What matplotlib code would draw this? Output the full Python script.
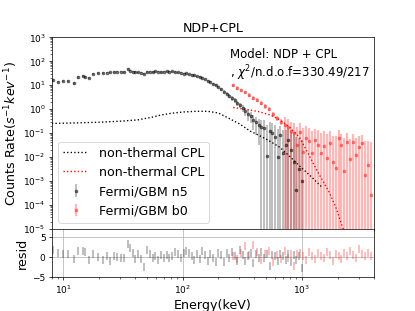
import matplotlib.pyplot as plt

# ---- Fermi/GBM n5 (NaI) count spectrum ----
n5_e = [8.2, 9.0, 9.9, 10.9, 12.2, 13.3, 14.6, 15.2, 16.5, 17.7, 19.5, 21.4,
        23.0, 24.8, 26.5, 28.4, 30.4, 32.5, 34.6, 36.3, 38.1, 40.2, 42.5, 44.8, 47.4,
        50.1, 53.0, 56.0, 59.1, 62.4, 65.9, 69.6, 73.5, 77.6, 81.9, 86.5, 91.3, 96.4,
        102, 107, 113, 119, 125, 132, 139, 146, 154, 162, 171, 180, 190, 200,
        211, 222, 234, 246, 259, 273, 288, 303, 319, 336, 354, 373, 393, 414,
        436, 459, 483, 509, 536, 565, 595, 627, 660, 695, 732, 771, 812, 855, 900, 950, 1000]
n5_rate = [16, 13.7, 15, 14.7, 11.8, 21, 23.7, 22, 19.5, 28.7, 30.7, 32,
           33, 34, 35, 36, 36, 35, 46, 40, 36, 35, 34, 33, 29,
           35, 36, 35, 37, 36, 35, 36, 37, 36, 37, 35, 34, 33,
           30, 31, 28, 27, 25, 23, 21, 19, 17, 15, 13.3, 11.5, 9.8, 8.2,
           6.8, 5.3, 4.4, 3.6, 2.8, 2.3, 1.8, 1.45, 1.1, 0.8, 0.6, 0.5, 0.35, 0.28,
           0.21, 0.17, 0.16, 0.011, 0.12, 0.1, 0.065, 0.01, 0.082, 0.015, 0.03, 0.05,
           0.02, 0.006, 0.00042, 0.003, 0.001]
n5_err = [1.9, 1.6, 1.8, 1.8, 1.5, 2.5, 2.5, 2.4, 2.2, 2.8, 2.8, 2.8,
          2.6, 2.6, 2.6, 2.5, 2.5, 2.4, 3.0, 2.6, 2.3, 2.2, 2.1, 2.0, 1.9,
          2.0, 2.0, 2.0, 2.0, 2.0, 2.0, 2.0, 2.0, 2.0, 2.0, 2.0, 2.0, 2.0,
          2.0, 2.0, 2.0, 2.0, 1.9, 1.8, 1.7, 1.6, 1.5, 1.4, 1.3, 1.2, 1.1, 1.0,
          0.9, 0.8, 0.7, 0.65, 0.55, 0.5, 0.45, 0.4, 0.35, 0.3, 0.28, 0.25, 0.22, 0.2,
          0.18, 0.17, 0.18, 0.2, 0.16, 0.15, 0.14, 0.13, 0.12, 0.12, 0.1, 0.1,
          0.09, 0.08, 0.07, 0.06, 0.05]
n5_resid = [1.8, 1.0, 0.8, 0.8, -0.5, 1.4, 1.4, 1.3, -0.9, 0.7, 0.0, -0.7,
            0.2, -1.1, 0.2, 0.0, -0.2, -0.4, 3.2, 2.2, 1.0, -0.6, 0.8, -0.6, -2.6,
            1.6, 0.6, -0.3, 0.2, -0.8, 0.4, -0.2, 0.5, -0.4, 0.3, 1.2, 0.6, -0.3,
            1.0, 1.4, 1.0, 0.3, -0.9, 0.6, -0.5, 1.5, 0.5, -1.0, 0.8, -0.2, -1.2, 1.0,
            0.5, -1.3, 0.9, -0.3, 1.2, 0.2, -1.0, 1.6, 0.4, -1.1, 0.2, 0.9, -1.5, 0.6,
            -0.2, 1.2, -0.4, 0.7, -2.3, 0.5, 0.3, -1.0, 0.8, 0.1, -0.7, 0.6,
            -1.3, 0.4, -0.8, 0.3, -2.7]

# ---- Fermi/GBM b0 (BGO) count spectrum ----
b0_e = [266, 287, 310, 335, 362, 391, 422, 455, 492, 531, 573, 619, 668, 722,
        765, 810, 858, 909, 962, 1019, 1080, 1144, 1212, 1284, 1359, 1440, 1526,
        1616, 1712, 1814, 1921, 2035, 2154, 2282, 2418, 2561, 2713, 2874, 3044,
        3224, 3415, 3617, 3831]
b0_rate = [10, 7.5, 6, 5, 3.8, 3, 2.4, 1.8, 1.3, 1.0, 0.6, 0.42, 0.3, 0.22,
           0.18, 0.12, 0.1, 0.03, 0.11, 0.016, 0.06, 0.044, 0.015, 0.05, 0.032, 0.014, 0.028,
           0.009, 0.037, 0.0064, 0.0036, 0.06, 0.032, 0.0025, 0.042, 0.008, 0.04, 0.012, 0.026,
           0.037, 0.0018, 0.0046, 0.00027]
b0_err = [1.5, 1.2, 1.0, 0.9, 0.7, 0.6, 0.5, 0.4, 0.3, 0.2, 0.12, 0.1, 0.09, 0.23,
          0.2, 0.18, 0.17, 0.15, 0.15, 0.14, 0.13, 0.12, 0.11, 0.1, 0.1, 0.09, 0.09,
          0.08, 0.08, 0.07, 0.07, 0.07, 0.06, 0.06, 0.06, 0.05, 0.05, 0.05, 0.05,
          0.045, 0.045, 0.04, 0.04]
b0_resid = [0.3, -0.5, 1.0, 2.7, 0.5, 3.0, 1.2, -0.8, 0.6, 1.5, -1.2, 0.4, -0.6, 1.5,
            -0.2, 0.8, -2.3, 0.6, 1.0, 0.2, -0.9, 1.3, 0.3, -0.5, 0.9, 0.1, -0.4,
            1.1, 0.5, -1.0, 0.6, 0.2, -0.6, 1.0, 0.3, 1.5, 0.4, -0.3, 2.0,
            0.8, 0.1, 0.9, 0.3]

# ---- non-thermal CPL model curves ----
cpl_n5_e = [8, 12, 20, 30, 42, 55, 66, 80, 102, 130, 162, 200, 251, 300, 369,
            447, 541, 656, 800, 958, 1200, 1468]
cpl_n5_r = [0.25, 0.26, 0.28, 0.31, 0.35, 0.45, 0.56, 0.66, 0.75, 0.8, 0.8, 0.68,
            0.38, 0.24, 0.12, 0.075, 0.045, 0.025, 0.01, 0.0042, 0.0015, 0.00056]
cpl_b0_e = [266, 350, 447, 550, 656, 794, 958, 1100, 1332, 1500, 1708, 1950, 2195, 2400]
cpl_b0_r = [1.15, 0.95, 0.75, 0.55, 0.35, 0.17, 0.065, 0.018, 0.0029, 0.001,
            0.00032, 0.00007, 0.000012, 0.000003]

fig = plt.figure(figsize=(6.4, 4.8), dpi=64.85)
gs = fig.add_gridspec(2, 1, height_ratios=[4, 1], hspace=0)
ax = fig.add_subplot(gs[0])
ax2 = fig.add_subplot(gs[1], sharex=ax)

grey_bar = (0, 0, 0, 0.28)
grey_pt = (0, 0, 0, 0.5)
red_bar = (1, 0, 0, 0.28)
red_pt = (1, 0, 0, 0.4)

ax.plot(cpl_n5_e, cpl_n5_r, ':', color='k', lw=1.5, label='non-thermal CPL')
ax.plot(cpl_b0_e, cpl_b0_r, ':', color='r', lw=1.5, label='non-thermal CPL')
ax.errorbar(n5_e, n5_rate, yerr=n5_err, fmt='o', ecolor=grey_bar, mfc=grey_pt, mec=grey_pt,
            ms=3, elinewidth=2, label='Fermi/GBM n5')
ax.errorbar(b0_e, b0_rate, yerr=b0_err, fmt='o', ecolor=red_bar, mfc=red_pt, mec=red_pt,
            ms=3, elinewidth=2.5, label='Fermi/GBM b0')
ax.set_xscale('log')
ax.set_yscale('log')
ax.set_xlim(8, 4000)
ax.set_ylim(1e-5, 1e3)
ax.set_ylabel(r'Counts Rate($s^{-1}kev^{-1}$)', fontsize=14)
ax.set_title('NDP+CPL', fontsize=14)
ax.text(0.555, 0.945, 'Model: NDP + CPL\n, $\\chi^2$/n.d.o.f=330.49/217',
        transform=ax.transAxes, fontsize=13, va='top')
ax.legend(loc='lower left', fontsize=14)
plt.setp(ax.get_xticklabels(), visible=False)

ax2.errorbar(n5_e, n5_resid, yerr=1, fmt='none', ecolor=grey_bar, elinewidth=2)
ax2.errorbar(b0_e, b0_resid, yerr=1, fmt='none', ecolor=red_bar, elinewidth=2)
ax2.set_ylim(-5, 7)
ax2.set_yticks([-5, 0, 5])
ax2.grid(True)
ax2.set_xlabel('Energy(keV)', fontsize=14)
ax2.set_ylabel('resid', fontsize=14)

fig.savefig('out.png')
